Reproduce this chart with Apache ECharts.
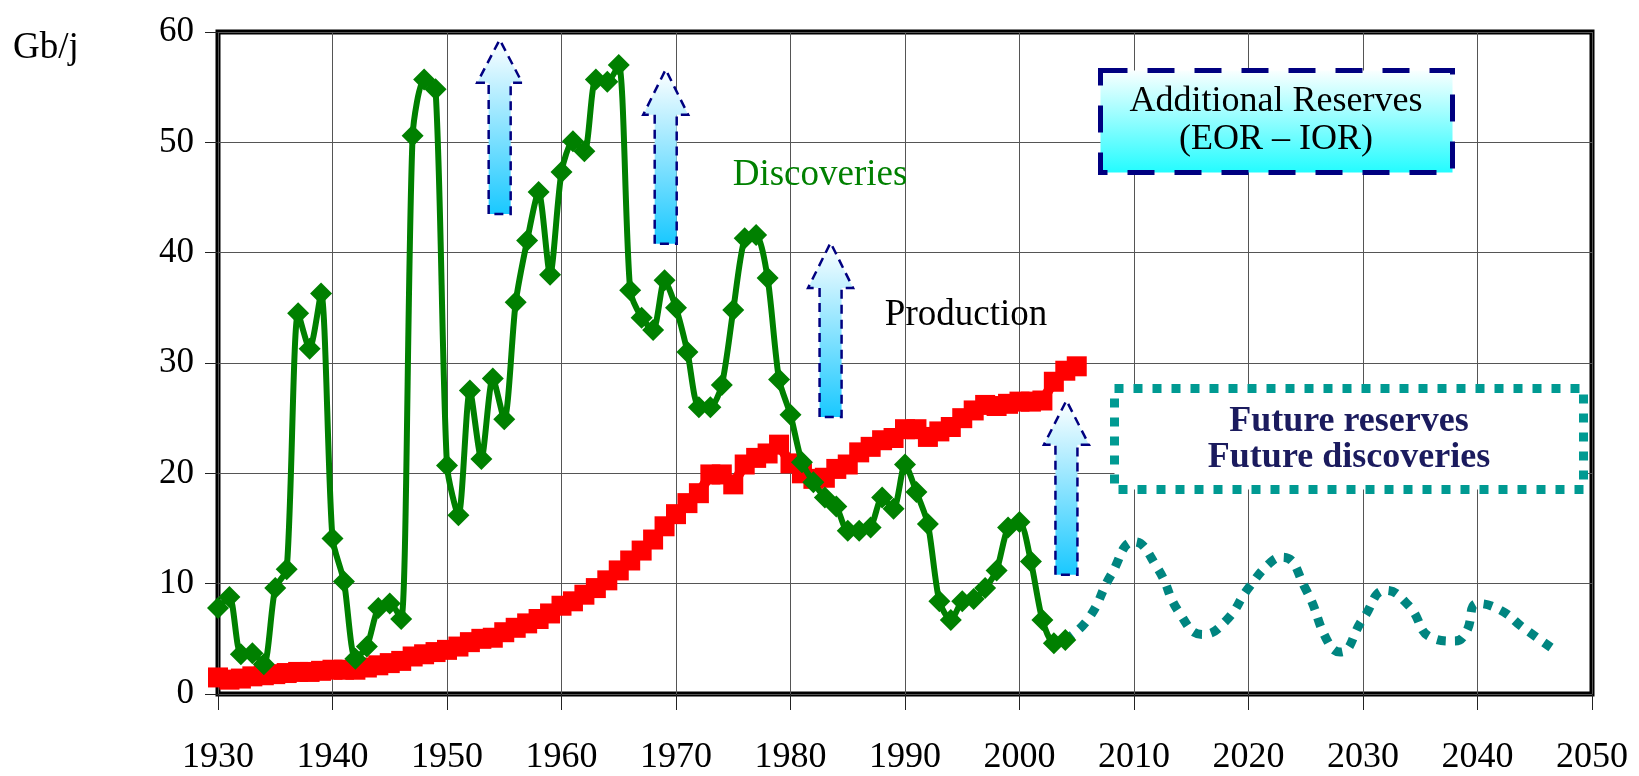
<!DOCTYPE html>
<html>
<head>
<meta charset="utf-8">
<script src="https://cdn.jsdelivr.net/npm/echarts@6/dist/echarts.min.js"></script>
<style>
  html, body { margin: 0; padding: 0; background: #fff; }
  #chart { width: 1639px; height: 776px; }
</style>
</head>
<body>
<div id="chart"></div>
<script>
// Annual oil discoveries (Gb/j), 1930–2004
const discoveryYears = [
  1930, 1931, 1932, 1933, 1934, 1935, 1936, 1937, 1938, 1939,
  1940, 1941, 1942, 1943, 1944, 1945, 1946, 1947, 1948, 1949,
  1950, 1951, 1952, 1953, 1954, 1955, 1956, 1957, 1958, 1959,
  1960, 1961, 1962, 1963, 1964, 1965, 1966, 1967, 1968, 1969,
  1970, 1971, 1972, 1973, 1974, 1975, 1976, 1977, 1978, 1979,
  1980, 1981, 1982, 1983, 1984, 1985, 1986, 1987, 1988, 1989,
  1990, 1991, 1992, 1993, 1994, 1995, 1996, 1997, 1998, 1999,
  2000, 2001, 2002, 2003, 2004
];
const discoveries = [
  7.8, 8.8, 3.6, 3.7, 2.7, 9.6, 11.3, 34.5, 31.3, 36.3,
  14.1, 10.2, 3.2, 4.3, 7.8, 8.2, 6.8, 50.6, 55.7, 54.8,
  20.7, 16.2, 27.5, 21.3, 28.6, 24.9, 35.5, 41.1, 45.5, 38.0,
  47.3, 50.1, 49.2, 55.7, 55.5, 57.0, 36.6, 34.1, 33.0, 37.5,
  35.0, 31.0, 26.0, 26.0, 28.0, 34.8, 41.3, 41.6, 37.7, 28.5,
  25.3, 21.0, 19.2, 17.8, 17.0, 14.8, 14.8, 15.1, 17.8, 16.8,
  20.8, 18.3, 15.4, 8.4, 6.7, 8.4, 8.6, 9.6, 11.2, 15.1,
  15.6, 12.0, 6.7, 4.6, 4.9
];

// Annual oil production (Gb/j), 1930–2005
const productionYears = [
  1930, 1931, 1932, 1933, 1934, 1935, 1936, 1937, 1938, 1939,
  1940, 1941, 1942, 1943, 1944, 1945, 1946, 1947, 1948, 1949,
  1950, 1951, 1952, 1953, 1954, 1955, 1956, 1957, 1958, 1959,
  1960, 1961, 1962, 1963, 1964, 1965, 1966, 1967, 1968, 1969,
  1970, 1971, 1972, 1973, 1974, 1975, 1976, 1977, 1978, 1979,
  1980, 1981, 1982, 1983, 1984, 1985, 1986, 1987, 1988, 1989,
  1990, 1991, 1992, 1993, 1994, 1995, 1996, 1997, 1998, 1999,
  2000, 2001, 2002, 2003, 2004, 2005
];
const production = [
  1.5, 1.3, 1.4, 1.6, 1.7, 1.8, 1.9, 2.0, 2.0, 2.1,
  2.2, 2.2, 2.2, 2.4, 2.6, 2.8, 3.0, 3.4, 3.6, 3.8,
  4.0, 4.3, 4.7, 5.0, 5.1, 5.6, 6.0, 6.4, 6.8, 7.3,
  8.0, 8.4, 9.0, 9.6, 10.3, 11.2, 12.1, 13.0, 14.0, 15.2,
  16.3, 17.3, 18.2, 19.9, 19.9, 19.0, 20.8, 21.4, 21.8, 22.6,
  20.9, 20.0, 19.5, 19.6, 20.4, 20.8, 21.9, 22.4, 23.0, 23.2,
  24.0, 24.0, 23.3, 23.8, 24.2, 25.0, 25.7, 26.2, 26.1, 26.3,
  26.5, 26.5, 26.6, 28.3, 29.3, 29.7
];

// Projected future discoveries (dotted wave)
const futureYears = [
  2004, 2006, 2008, 2010, 2012, 2014, 2016, 2018, 2020, 2022,
  2023, 2025, 2027, 2028, 2030, 2032, 2034, 2036, 2038, 2039,
  2040, 2042, 2044, 2047
];
const futureValues = [
  4.9, 6.8, 10.8, 13.8, 11.5, 7.3, 5.4, 6.6, 9.6, 12.0,
  12.4, 9.5, 4.6, 3.8, 6.8, 9.4, 8.0, 5.1, 4.8, 5.6,
  8.2, 7.6, 6.0, 3.8
];

// "Additional reserves" arrows: year, shaft bottom, head base, tip
const arrowYears = [1954.6, 1969.1, 1983.5, 2004.1];
const arrowBase  = [43.5, 40.8, 25.1, 10.8];
const arrowNeck  = [55.4, 52.5, 36.8, 22.6];
const arrowTip   = [59.3, 56.6, 40.9, 26.6];

// Axis ticks
const xTicks = { min: 1930, max: 2050, step: 10 };
const yTicks = { min: 0, max: 60, step: 10 };

const pair = (xs, ys) => xs.map((x, i) => [x, ys[i]]);
const arrowData = arrowYears.map((x, i) => [x, arrowBase[i], arrowNeck[i], arrowTip[i]]);

const SERIF = '"Liberation Serif", "Times New Roman", serif';
const chart = echarts.init(document.getElementById('chart'), null, { renderer: 'canvas' });

chart.setOption({
  animation: false,
  backgroundColor: '#ffffff',
  grid: {
    left: 218, right: 47, top: 32, bottom: 79,
    show: true, borderColor: '#000', borderWidth: 5, backgroundColor: 'transparent'
  },
  xAxis: {
    type: 'value',
    min: xTicks.min, max: xTicks.max, interval: xTicks.step,
    axisLine: { show: false },
    axisTick: { show: true, length: 16, inside: false, lineStyle: { color: '#222', width: 1 } },
    splitLine: { show: true, lineStyle: { color: '#555', width: 1 } },
    axisLabel: {
      show: true, showMinLabel: true, showMaxLabel: true,
      margin: 46, color: '#000', fontFamily: SERIF, fontSize: 36,
      formatter: v => String(v)
    }
  },
  yAxis: {
    type: 'value',
    min: yTicks.min, max: yTicks.max, interval: yTicks.step,
    axisLine: { show: false },
    axisTick: { show: true, length: 13, inside: false, lineStyle: { color: '#222', width: 1 } },
    splitLine: { show: true, lineStyle: { color: '#555', width: 1 } },
    axisLabel: {
      show: true, showMinLabel: true, showMaxLabel: true,
      margin: 24, color: '#000', fontFamily: SERIF, fontSize: 35,
      padding: [0, 0, 18, 0]
    }
  },
  series: [
    {
      name: 'Future',
      type: 'line',
      data: pair(futureYears, futureValues),
      smooth: 0.5,
      symbol: 'none',
      lineStyle: { color: '#008580', width: 9, type: [9, 9], cap: 'butt' },
      z: 3
    },
    {
      name: 'Production',
      type: 'line',
      data: pair(productionYears, production),
      symbol: 'rect',
      symbolSize: 20,
      itemStyle: { color: '#ff0000' },
      lineStyle: { color: '#ff0000', width: 10 },
      z: 4
    },
    {
      name: 'Discoveries',
      type: 'line',
      data: pair(discoveryYears, discoveries),
      smooth: 0.25,
      symbol: 'diamond',
      symbolSize: 22,
      itemStyle: { color: '#008000' },
      lineStyle: { color: '#008000', width: 6 },
      z: 5
    },
    {
      name: 'Arrows',
      type: 'custom',
      data: arrowData,
      encode: { x: 0, y: [1, 2, 3] },
      z: 6,
      renderItem: (params, api) => {
        const x = api.value(0);
        const b = api.coord([x, api.value(1)]);
        const n = api.coord([x, api.value(2)]);
        const t = api.coord([x, api.value(3)]);
        const cx = b[0], sw = 11, hw = 22.5;
        return {
          type: 'polygon',
          shape: {
            points: [
              [cx - sw, b[1]], [cx - sw, n[1]], [cx - hw, n[1]], [cx, t[1]],
              [cx + hw, n[1]], [cx + sw, n[1]], [cx + sw, b[1]]
            ]
          },
          style: {
            fill: new echarts.graphic.LinearGradient(0, 0, 0, 1, [
              { offset: 0, color: '#ffffff' },
              { offset: 1, color: '#18c8ff' }
            ]),
            stroke: '#000080',
            lineWidth: 2.5,
            lineDash: [9, 6]
          }
        };
      }
    }
  ],
  graphic: [
    {
      type: 'text', z: 10,
      style: { text: 'Gb/j', x: 13, y: 48, align: 'left', verticalAlign: 'middle',
               fontFamily: SERIF, fontSize: 37, fill: '#000' }
    },
    {
      type: 'text', z: 10,
      style: { text: 'Discoveries', x: 820, y: 175, align: 'center', verticalAlign: 'middle',
               fontFamily: SERIF, fontSize: 37, fill: '#008000' }
    },
    {
      type: 'text', z: 10,
      style: { text: 'Production', x: 966, y: 315, align: 'center', verticalAlign: 'middle',
               fontFamily: SERIF, fontSize: 37, fill: '#000' }
    },
    {
      type: 'rect', z: 10,
      shape: { x: 1100.5, y: 70.5, width: 352, height: 102 },
      style: {
        fill: new echarts.graphic.LinearGradient(0, 0, 0, 1, [
          { offset: 0, color: '#ffffff' },
          { offset: 1, color: '#1efcff' }
        ]),
        stroke: '#000080', lineWidth: 5, lineDash: [27, 20]
      }
    },
    {
      type: 'text', z: 11,
      style: { text: 'Additional Reserves\n(EOR – IOR)', x: 1276, y: 121, align: 'center',
               verticalAlign: 'middle', fontFamily: SERIF, fontSize: 36, lineHeight: 38, fill: '#000' }
    },
    {
      type: 'rect', z: 10,
      shape: { x: 1114.5, y: 388.5, width: 469, height: 101 },
      style: { fill: '#ffffff', stroke: '#009a92', lineWidth: 9, lineDash: [9, 10] }
    },
    {
      type: 'text', z: 11,
      style: { text: 'Future reserves\nFuture discoveries', x: 1349, y: 440, align: 'center',
               verticalAlign: 'middle', fontFamily: SERIF, fontSize: 36, fontWeight: 'bold',
               lineHeight: 36, fill: '#1b1b5e' }
    }
  ]
});
</script>
</body>
</html>
